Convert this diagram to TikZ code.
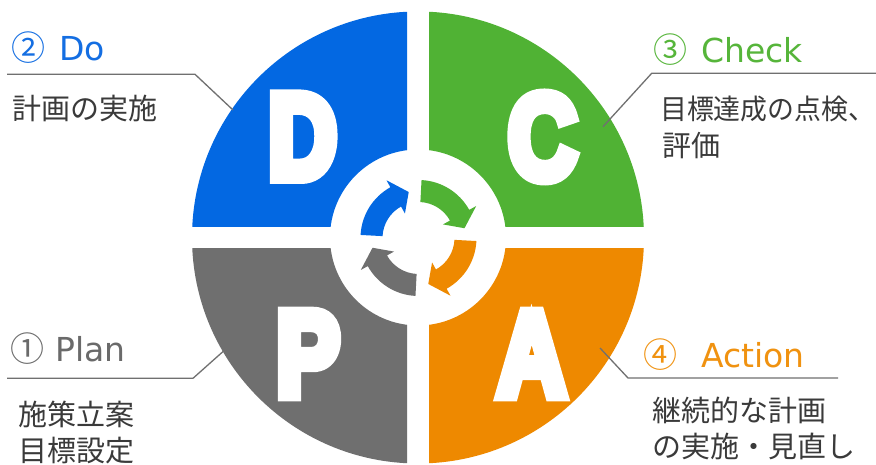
\documentclass[tikz,border=0pt]{standalone}
\usepackage{fontspec}
\newfontfamily\jpfont{Noto Sans CJK JP}
\newfontfamily\latfont{DejaVu Sans}
\newfontfamily\heavyfont{Liberation Sans Bold}[FakeBold=10]
\definecolor{blueQ}{RGB}{3,104,226}
\definecolor{greenQ}{RGB}{80,178,52}
\definecolor{orangeQ}{RGB}{238,137,0}
\definecolor{grayQ}{RGB}{111,111,111}
\definecolor{blueT}{RGB}{20,110,226}
\definecolor{greenT}{RGB}{86,181,58}
\definecolor{orangeT}{RGB}{240,146,16}
\definecolor{grayT}{RGB}{106,106,106}
\definecolor{txtgray}{RGB}{58,58,58}
\definecolor{linegray}{RGB}{112,112,112}
\newcommand{\cyclearrow}[3]{%
  \fill[#1] (#2:58pt) arc[start angle=#2, end angle=#3+17, radius=58pt]
    -- (#3+17:66pt) -- (#3:47pt) -- (#3+17:28pt) -- (#3+17:36pt)
    arc[start angle=#3+17, end angle=#2, radius=36pt] -- cycle;}
\newcommand{\quadrant}[3]{%
  \begin{scope}
    \clip #2 rectangle #3;
    \fill[#1, even odd rule] (418,227.5) circle[radius=226pt] (418,227.5) circle[radius=88pt];
  \end{scope}}
\newcommand{\bigletter}[1]{\scalebox{0.95}[1.2]{#1}}
\begin{document}
\begin{tikzpicture}[x=1pt,y=1pt,
  jp/.style={font=\jpfont\fontsize{29}{35}\selectfont, text=txtgray, inner sep=0pt, anchor=west},
  ttl/.style={font=\latfont\fontsize{33}{39}\selectfont, inner sep=0pt, anchor=base west},
  num/.style={font=\jpfont\fontsize{34}{40}\selectfont, inner sep=0pt, anchor=base west},
  big/.style={font=\heavyfont\fontsize{100}{100}\selectfont, text=white, inner sep=0pt},
  leader/.style={draw=linegray, line width=1.3pt}]
\useasboundingbox (0,0) rectangle (876,465);
\fill[white] (0,0) rectangle (876,465);
% quadrants
\quadrant{blueQ}{(180,238.5)}{(407,470)}
\quadrant{greenQ}{(429,238.5)}{(660,470)}
\quadrant{grayQ}{(180,-5)}{(407,216.5)}
\quadrant{orangeQ}{(429,-5)}{(660,216.5)}
% central cycle arrows
\begin{scope}[shift={(418.5,227)}]
  \cyclearrow{blueQ}{177}{102}
  \cyclearrow{greenQ}{87}{12}
  \cyclearrow{orangeQ}{-3}{-78}
  \cyclearrow{grayQ}{-93}{-168}
\end{scope}
% big letters
\node[big] (D) at (302.5,328.3) {\bigletter{D}};
\node[big] (C) at (542.5,328) {\bigletter{C}};
\node[big] (P) at (308,111) {\bigletter{P}};
\node[big] (A) at (531.7,111) {\bigletter{A}};
% Do
\node[num, text=blueT] (n2) at (11,404) {②};
\node[ttl, text=blueT] (tDo) at (59,404) {Do};
\node[jp] (jDo) at (12,356) {計画の実施};
\coordinate (dS) at (7,390.7);
\coordinate (dK) at (195,390.7);
\coordinate (dE) at (233,355);
\draw[leader] (dS) -- (dK) -- (dE);
% Check
\node[num, text=greenT] (n3) at (653,402) {③};
\node[ttl, text=greenT] (tCheck) at (701,402) {Check};
\node[jp, font=\jpfont\fontsize{28}{35}\selectfont] (jC1) at (660,356.5) {\scalebox{0.96}[1]{目標達成の点検、}};
\node[jp] (jC2) at (662,319) {評価};
\coordinate (cS) at (876,391.7);
\coordinate (cK) at (651.7,391.7);
\coordinate (cE) at (603,338.3);
\draw[leader] (cS) -- (cK) -- (cE);
% Plan
\node[num, text=grayT] (n1) at (10,103.3) {①};
\node[ttl, text=grayT] (tPlan) at (55,103.3) {Plan};
\node[jp] (jP1) at (18,50.5) {施策立案};
\node[jp] (jP2) at (18,14.5) {目標設定};
\coordinate (pS) at (7,86.7);
\coordinate (pK) at (193,86.7);
\coordinate (pE) at (227,117);
\draw[leader] (pS) -- (pK) -- (pE);
% Action
\node[num, text=orangeT] (n4) at (643,97) {④};
\node[ttl, text=orangeT] (tAction) at (701,97) {Action};
\node[jp] (jA1) at (652,54.5) {継続的な計画};
\node[jp] (jA2) at (652,18.5) {の実施・見直し};
\coordinate (aS) at (600,117);
\coordinate (aK) at (628,87);
\coordinate (aE) at (838,87);
\draw[leader] (aS) -- (aK) -- (aE);
\end{tikzpicture}
\end{document}
